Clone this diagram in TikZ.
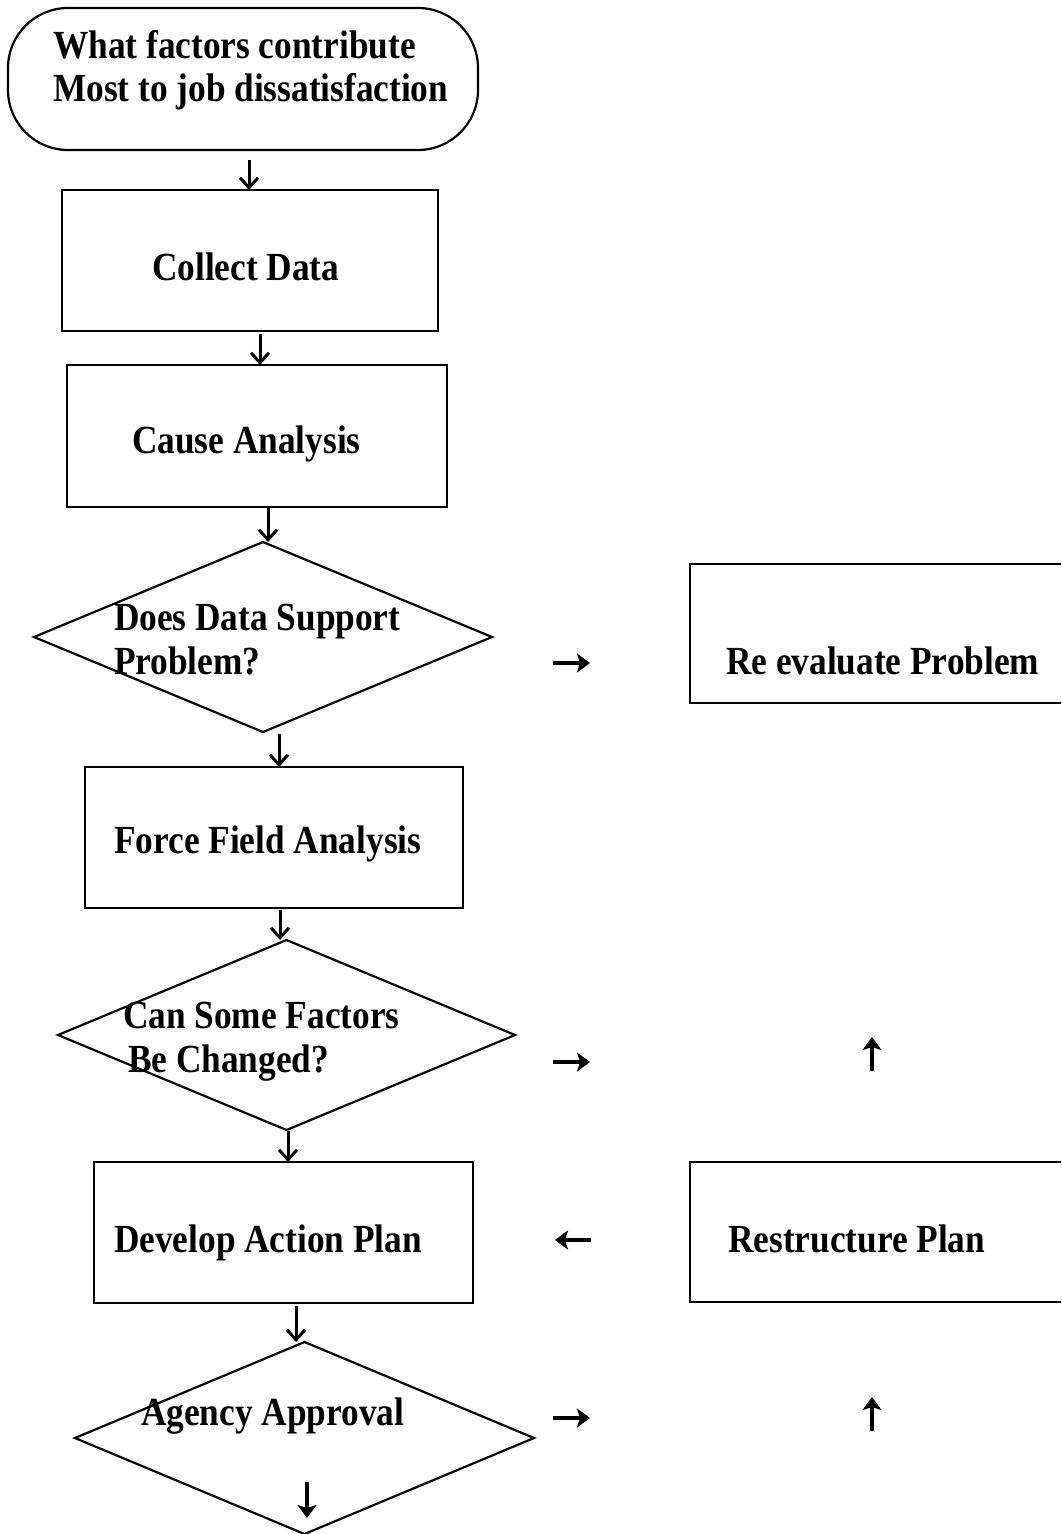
\documentclass[tikz,border=0pt]{standalone}
\usepackage{fontspec}
\usepackage{graphicx}
\setmainfont{Liberation Serif}
\usetikzlibrary{arrows.meta,shapes.geometric}
% labels are set slightly taller than the font's natural proportions
\newcommand{\tallset}[1]{\scalebox{1}[1.13]{#1}}

\begin{document}
\begin{tikzpicture}[x=1pt,y=-1pt,
  line width=2.2pt,
  procbox/.style={draw, rectangle, inner sep=0pt, outer sep=0pt},
  startbox/.style={draw, rectangle, rounded corners=60pt, inner sep=0pt, outer sep=0pt},
  decision/.style={draw, diamond, inner sep=0pt, outer sep=0pt},
  txt/.style={inner sep=0pt, anchor=base west,
              font=\bfseries\fontsize{35.3}{43.5}\selectfont},
  flow/.style={-{Straight Barb[length=10pt,width=18pt,line width=3pt]}, line width=3pt},
  glyph/.style={-{Stealth[length=13pt,width=19pt,inset=3pt]}, line width=3.4pt}]

\useasboundingbox (0,0) rectangle (1061,1534);
\clip (0,0) rectangle (1061,1534);

% main column
\node[startbox, minimum width=470pt, minimum height=142pt] (start) at (243,79) {};
\node[txt] (start-t1) at (52,58) {\tallset{What factors contribute}};
\node[txt] (start-t2) at (52,101) {\tallset{Most to job dissatisfaction}};

\node[procbox, minimum width=376pt, minimum height=141pt] (collect) at (250,260.5) {};
\node[txt] (collect-t) at (151,280) {\tallset{Collect Data}};

\node[procbox, minimum width=380pt, minimum height=142pt] (cause) at (257,436) {};
\node[txt] (cause-t) at (131,453) {\tallset{Cause Analysis}};

\node[decision, minimum width=458pt, minimum height=190pt] (support) at (263,637) {};
\node[txt] (support-t1) at (113,630) {\tallset{Does Data Support}};
\node[txt] (support-t2) at (113,674) {\tallset{Problem?}};

\node[procbox, minimum width=378pt, minimum height=141pt] (force) at (274,837.5) {};
\node[txt] (force-t) at (113,853) {\tallset{Force Field Analysis}};

\node[decision, minimum width=457pt, minimum height=190pt] (change) at (286.5,1035) {};
\node[txt] (change-t1) at (122,1028) {\tallset{Can Some Factors}};
\node[txt] (change-t2) at (127,1072) {\tallset{Be Changed?}};

\node[procbox, minimum width=379pt, minimum height=141pt] (develop) at (283.5,1232.5) {};
\node[txt] (develop-t) at (113,1252) {\tallset{Develop Action Plan}};

\node[decision, minimum width=459pt, minimum height=192pt] (approval) at (304.5,1438) {};
\node[txt] (approval-t) at (140,1425) {\tallset{Agency Approval}};

% side column
\node[procbox, minimum width=410pt, minimum height=139pt] (reeval) at (895,633.5) {};
\node[txt] (reeval-t) at (725,674) {\tallset{Re evaluate Problem}};

\node[procbox, minimum width=410pt, minimum height=140pt] (restructure) at (895,1232) {};
\node[txt] (restructure-t) at (727,1252) {\tallset{Restructure Plan}};

% downward flow
\draw[flow] ([shift={(6,10)}]start.south) -- ([shift={(-1,0)}]collect.north);
\draw[flow] ([shift={(10,3)}]collect.south) -- ([shift={(3,0)}]cause.north);
\draw[flow] ([shift={(11,1)}]cause.south) -- ([shift={(5,0)}]support.north);
\draw[flow] ([shift={(16,2)}]support.south) -- ([shift={(5,0)}]force.north);
\draw[flow] ([shift={(6,2)}]force.south) -- ([shift={(-6.5,0)}]change.north);
\draw[flow] ([shift={(1.5,1)}]change.south) -- ([shift={(4.5,0)}]develop.north);
\draw[flow] ([shift={(12.5,3)}]develop.south) -- ([shift={(-8.5,0)}]approval.north);

% loose arrows between the columns
\coordinate (r1a) at (553,663);   \coordinate (r1b) at (590,663);
\coordinate (r2a) at (553,1062);  \coordinate (r2b) at (590,1062);
\coordinate (l3a) at (591,1240);  \coordinate (l3b) at (555,1240);
\coordinate (r4a) at (553,1418);  \coordinate (r4b) at (590,1418);
\coordinate (u1a) at (872,1071);  \coordinate (u1b) at (872,1037);
\coordinate (u2a) at (872,1431);  \coordinate (u2b) at (872,1397);
\coordinate (d1a) at (307,1482);  \coordinate (d1b) at (307,1518);
\draw[glyph] (r1a) -- (r1b);
\draw[glyph] (r2a) -- (r2b);
\draw[glyph] (l3a) -- (l3b);
\draw[glyph] (r4a) -- (r4b);
\draw[glyph] (u1a) -- (u1b);
\draw[glyph] (u2a) -- (u2b);
\draw[glyph] (d1a) -- (d1b);
\end{tikzpicture}
\end{document}
